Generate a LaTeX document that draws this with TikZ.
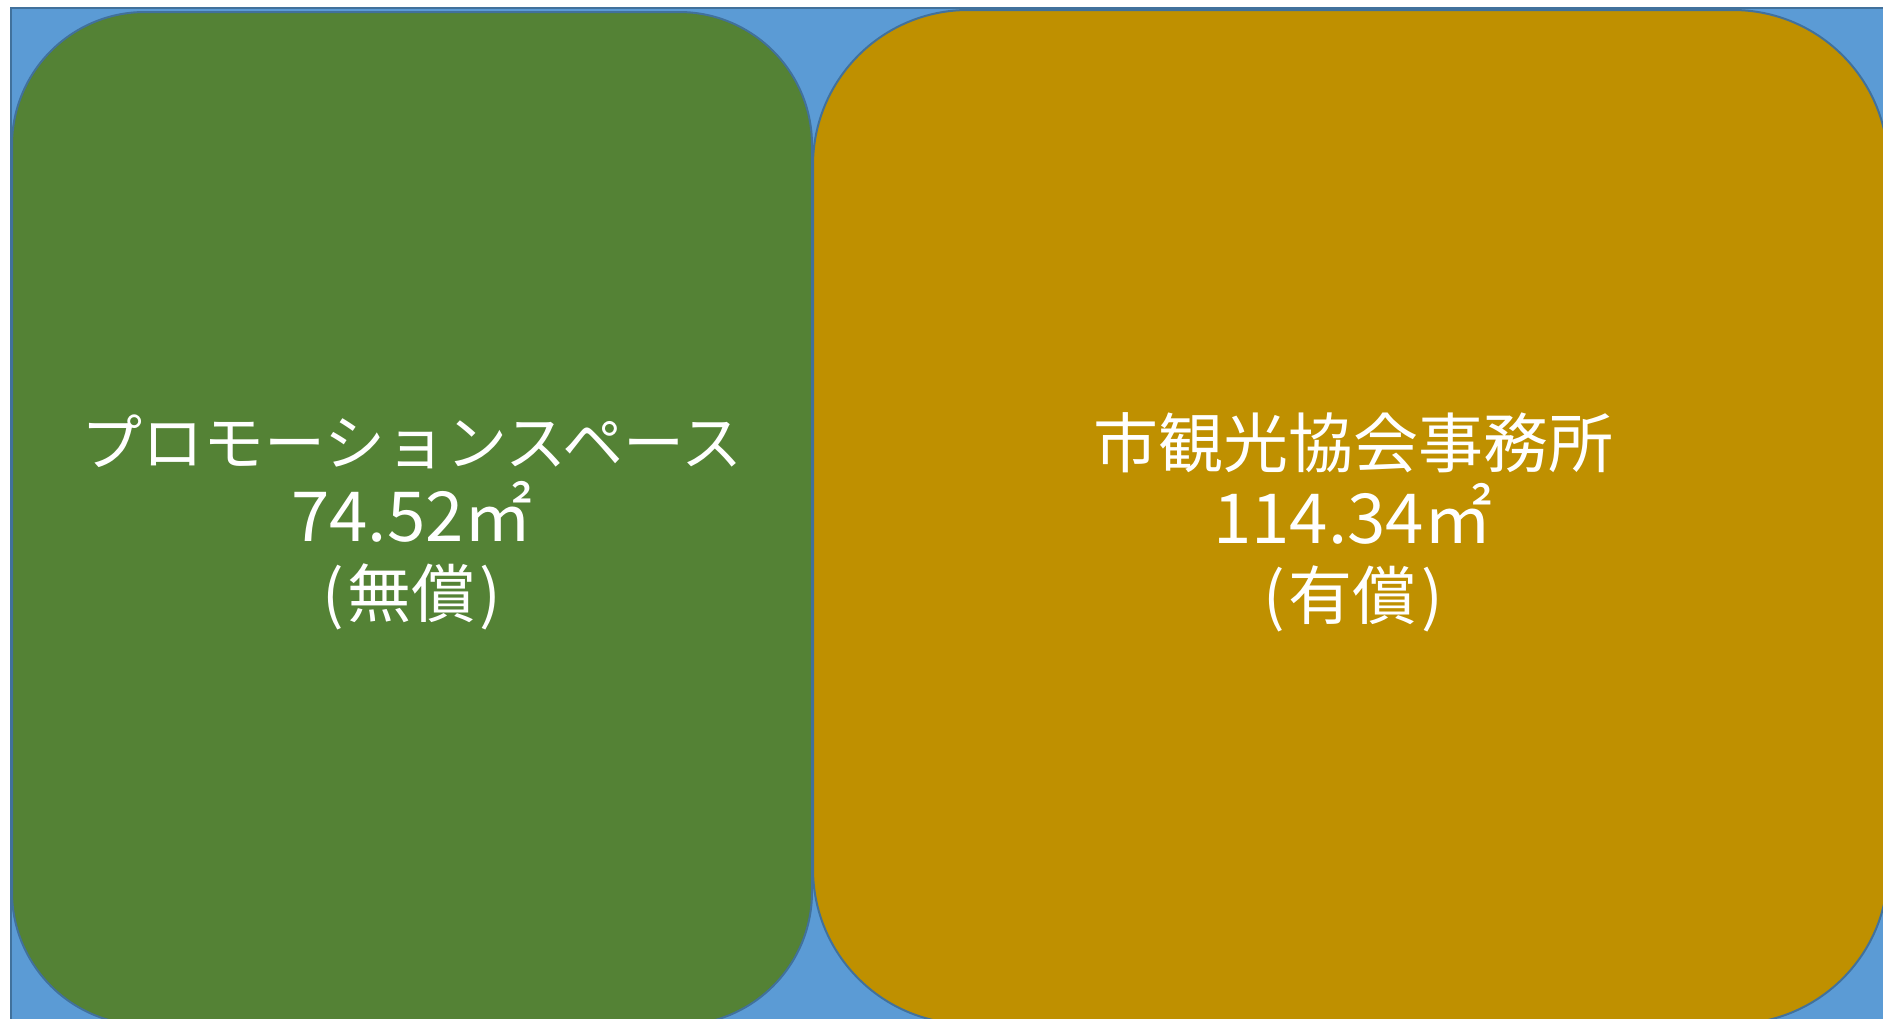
\documentclass[tikz,border=0pt]{standalone}
\usepackage{fontspec}
\newfontfamily\jpfont{Noto Sans CJK JP}
\definecolor{bgblue}{HTML}{5B9BD5}
\definecolor{edgeblue}{HTML}{41719C}
\definecolor{areagreen}{HTML}{548235}
\definecolor{areagold}{HTML}{BF9000}
\newcommand{\fsz}[1]{\fontsize{#1}{76}\selectfont}
\tikzset{
  area/.style={draw=edgeblue, line width=2pt, inner sep=0pt, outer sep=0pt, rectangle},
  label/.style={text=white, align=center, inner sep=0pt,
    font=\jpfont\fontsize{61}{76}\selectfont}
}
\begin{document}
\begin{tikzpicture}[x=1pt,y=-1pt]
\useasboundingbox (0,0) rectangle (1883,1018);
\fill[white] (0,0) rectangle (1883,1018);
\begin{scope}
\clip (0,0) rectangle (1883,1018);
\draw[fill=bgblue, draw=edgeblue, line width=2pt] (11,8) rectangle (1910,1050);
\node[area, fill=areagreen, minimum width=800pt, minimum height=1013pt, rounded corners=133pt] (promo) at (412,518.5) {};
\node[area, fill=areagold, minimum width=1075pt, minimum height=1014pt, rounded corners=155pt] (office) at (1350.5,517) {};
\end{scope}
\node[label] (promotext) at (412,522) {{\fsz{61}プロモーションスペース}\\{\fsz{69}74.52㎡}\\{\fsz{64}(\hspace{4pt}無償\hspace{4pt})}};
\node[label] (officetext) at (1353,522) {{\fsz{65}市観光協会事務所}\\{\fsz{69}114.34㎡}\\{\fsz{64}(\hspace{4pt}有償\hspace{4pt})}};
\end{tikzpicture}
\end{document}
